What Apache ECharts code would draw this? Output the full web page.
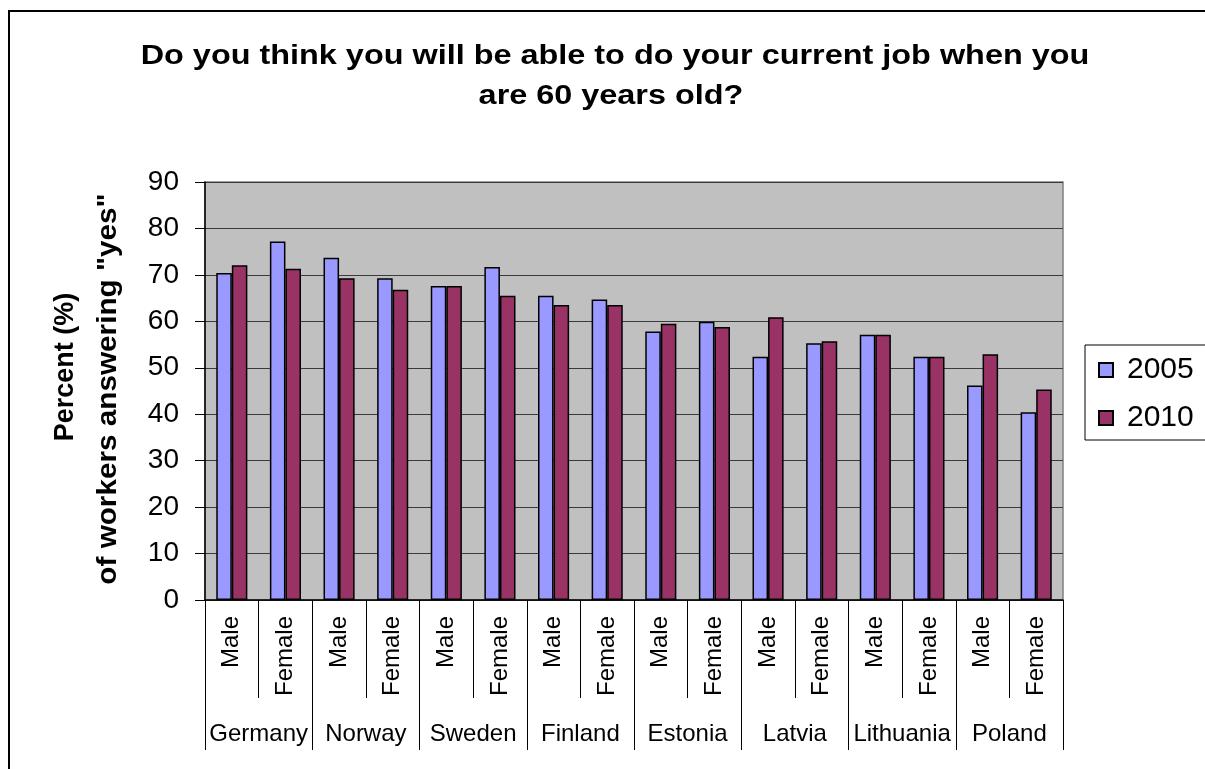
<!DOCTYPE html>
<html>
<head>
<meta charset="utf-8">
<script src="https://cdn.jsdelivr.net/npm/echarts@6/dist/echarts.min.js"></script>
<style>html,body{margin:0;padding:0;background:#fff;}#c{width:1205px;height:769px;}</style>
</head>
<body>
<div id="c"></div>
<script>
const countries = ['Germany','Norway','Sweden','Finland','Estonia','Latvia','Lithuania','Poland'];
const sexes = ['Male','Female'];
const subCategories = countries.flatMap(() => sexes);
const values2005 = [70.4, 77.2, 73.7, 69.3, 67.6, 71.7, 65.5, 64.7, 57.8, 59.9, 52.4, 55.3, 57.1, 52.4, 46.2, 40.4];
const values2010 = [72.1, 71.3, 69.3, 66.8, 67.6, 65.5, 63.5, 63.5, 59.5, 58.8, 60.9, 55.7, 57.1, 52.4, 52.9, 45.3];
const yTicks = {min: 0, max: 90, interval: 10};
const titleLines = ['Do you think you will be able to do your current job when you', 'are 60 years old?'];
const yNameLines = ['Percent (%)', 'of workers answering "yes"'];
const FONT = '"Liberation Sans", Arial, sans-serif';

const chart = echarts.init(document.getElementById('c'), null, {renderer: 'canvas'});
chart.setOption({
  backgroundColor: '#fff',
  animation: false,
  textStyle: {fontFamily: FONT, color: '#000'},
  graphic: [
    {type: 'rect', shape: {x: 9, y: 11, width: 1300, height: 900}, style: {fill: 'none', stroke: '#000', lineWidth: 2}, silent: true},
    {type: 'text', x: 615, y: 57, scaleX: 1.2, style: {text: titleLines[0], font: 'bold 27px ' + FONT, fill: '#000', textAlign: 'center', textVerticalAlign: 'middle'}},
    {type: 'text', x: 611, y: 97, scaleX: 1.2, style: {text: titleLines[1], font: 'bold 27px ' + FONT, fill: '#000', textAlign: 'center', textVerticalAlign: 'middle'}},
    {type: 'text', x: 66, y: 367, rotation: Math.PI / 2, style: {text: yNameLines[0], font: 'bold 27px ' + FONT, fill: '#000', textAlign: 'center', textVerticalAlign: 'middle'}},
    {type: 'text', x: 109, y: 389, rotation: Math.PI / 2, scaleX: 1.1, style: {text: yNameLines[1], font: 'bold 27px ' + FONT, fill: '#000', textAlign: 'center', textVerticalAlign: 'middle'}}
  ],
  legend: {
    orient: 'vertical',
    left: 1085, top: 345,
    backgroundColor: '#fff',
    borderColor: '#000', borderWidth: 1,
    padding: [10, 40, 7, 13],
    itemWidth: 14, itemHeight: 14, itemGap: 18,
    icon: 'rect',
    textStyle: {fontSize: 30, fontFamily: FONT, color: '#000', padding: [0, 0, 0, 9]},
    data: ['2005', '2010']
  },
  grid: {left: 205, top: 182, right: 142, bottom: 169, show: true, backgroundColor: '#C0C0C0', borderColor: '#808080', borderWidth: 1.5},
  xAxis: [
    {
      type: 'category', data: subCategories, position: 'bottom',
      axisLine: {lineStyle: {color: '#000', width: 1.5}},
      axisTick: {show: true, interval: 0, length: 98, lineStyle: {color: '#000', width: 1}},
      axisLabel: {interval: 0, rotate: 90, fontSize: 24, margin: 16, color: '#000', fontFamily: FONT},
      splitLine: {show: false}
    },
    {
      type: 'category', data: countries, position: 'bottom',
      axisLine: {show: false},
      axisTick: {show: true, interval: 0, length: 150, lineStyle: {color: '#000', width: 1}},
      axisLabel: {interval: 0, fontSize: 24, margin: 122, color: '#000', fontFamily: FONT},
      splitLine: {show: false}
    }
  ],
  yAxis: {
    type: 'value', min: yTicks.min, max: yTicks.max, interval: yTicks.interval,
    axisLine: {show: true, lineStyle: {color: '#000', width: 1.5}},
    axisTick: {show: true, length: 10, lineStyle: {color: '#000'}},
    axisLabel: {fontSize: 28, margin: 26, color: '#000', fontFamily: FONT},
    splitLine: {show: true, lineStyle: {color: '#3a3a3a', width: 1}}
  },
  series: [
    {name: '2005', type: 'bar', xAxisIndex: 0, data: values2005, barGap: '0%', barCategoryGap: '42%',
     itemStyle: {color: '#9999FF', borderColor: '#000', borderWidth: 1.5}},
    {name: '2010', type: 'bar', xAxisIndex: 0, data: values2010, barGap: '0%', barCategoryGap: '42%',
     itemStyle: {color: '#993366', borderColor: '#000', borderWidth: 1.5}}
  ]
});
</script>
</body>
</html>
